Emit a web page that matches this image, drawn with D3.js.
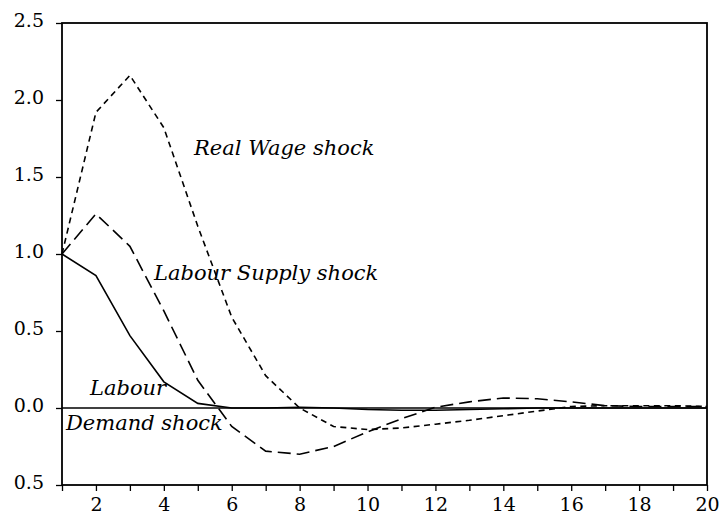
<!DOCTYPE html>
<html>
<head>
<meta charset="utf-8">
<script src="https://cdn.jsdelivr.net/npm/d3@7"></script>
<style>
  body { margin: 0; background: #fff; }
  svg { display: block; }
</style>
</head>
<body>
<svg class="chart"></svg>
<script>
// periods 1..20
var periods = d3.range(1, 21);

var realWage = [1.0, 1.92, 2.16, 1.82, 1.18, 0.59, 0.21, 0.0, -0.12, -0.14,
                -0.13, -0.105, -0.08, -0.05, -0.02, 0.01, 0.015, 0.015, 0.015, 0.01];
var labourSupply = [1.0, 1.26, 1.05, 0.63, 0.18, -0.12, -0.28, -0.30, -0.25, -0.155,
                    -0.07, 0.005, 0.04, 0.065, 0.06, 0.04, 0.015, 0.01, 0.01, 0.01];
var labourDemand = [1.0, 0.86, 0.47, 0.17, 0.03, 0.0, 0.0, 0.005, 0.0, -0.01,
                    -0.015, -0.015, -0.01, -0.005, 0.0, 0.0, 0.0, 0.0, 0.0, 0.0];

var yTicks = [-0.5, 0, 0.5, 1.0, 1.5, 2.0, 2.5];
var yTickLabels = ['0.5', '0.0', '0.5', '1.0', '1.5', '2.0', '2.5'];
var xTickLabels = ['2', '4', '6', '8', '10', '12', '14', '16', '18', '20'];

var width = 719;
var height = 530;
var margin = { top: 23, right: 12, bottom: 45, left: 62 };

var chart = d3.select('.chart')
    .attr('width', width)
    .attr('height', height);

var x = d3.scaleLinear().domain([1, 20]).range([margin.left, width - margin.right]);
var y = d3.scaleLinear().domain([-0.5, 2.5]).range([height - margin.bottom, margin.top]);

var tickFont = 'DejaVu Serif, serif';

// y axis
var yAxis = d3.axisLeft(y)
    .tickValues(yTicks)
    .tickSize(6)
    .tickPadding(12)
    .tickFormat(function(d, i) { return yTickLabels[i]; });
chart.append('g')
    .attr('transform', 'translate(' + margin.left + ',0)')
    .call(yAxis)
    .call(function(g) {
      g.select('.domain').remove();
      g.selectAll('line').attr('stroke', '#000').attr('stroke-width', 1.3);
      g.selectAll('text').attr('font-family', tickFont).attr('font-size', 19).attr('fill', '#000').attr('dy', '0.2em');
    });

// x axis, tick every period, label every second
var xAxis = d3.axisBottom(x)
    .tickValues(periods)
    .tickSize(6)
    .tickPadding(7)
    .tickFormat(function(d) { return d % 2 == 0 ? xTickLabels[d / 2 - 1] : ''; });
chart.append('g')
    .attr('transform', 'translate(0,' + (height - margin.bottom) + ')')
    .call(xAxis)
    .call(function(g) {
      g.select('.domain').remove();
      g.selectAll('line').attr('stroke', '#000').attr('stroke-width', 1.3);
      g.selectAll('text').attr('font-family', tickFont).attr('font-size', 19).attr('fill', '#000');
    });

// zero line
chart.append('line')
    .attr('x1', x(1)).attr('x2', x(20))
    .attr('y1', y(0)).attr('y2', y(0))
    .attr('stroke', '#000')
    .attr('stroke-width', 1.3);

// the three impulse responses
var series = [
  { values: realWage, dash: '6,4.5' },
  { values: labourSupply, dash: '13,6' },
  { values: labourDemand, dash: null }
];

var line = d3.line()
    .x(function(d) { return x(d.t); })
    .y(function(d) { return y(d.v); });

series.forEach(function(s) {
  var pts = periods.map(function(t, i) { return { t: t, v: s.values[i] }; });
  chart.append('path')
      .datum(pts)
      .attr('fill', 'none')
      .attr('stroke', '#000')
      .attr('stroke-width', 1.6)
      .attr('stroke-dasharray', s.dash)
      .attr('d', line);
});

// frame
chart.append('rect')
    .attr('x', x(1))
    .attr('y', y(2.5))
    .attr('width', x(20) - x(1))
    .attr('height', y(-0.5) - y(2.5))
    .attr('fill', 'none')
    .attr('stroke', '#000')
    .attr('stroke-width', 1.8);

// labels on the curves
var notes = [
  { text: 'Real Wage shock', px: 194, py: 155 },
  { text: 'Labour Supply shock', px: 154, py: 280 },
  { text: 'Labour', px: 90, py: 395 },
  { text: 'Demand shock', px: 66, py: 430 }
];
chart.selectAll('text.note')
    .data(notes)
    .enter().append('text')
    .attr('class', 'note')
    .attr('x', function(d) { return d.px; })
    .attr('y', function(d) { return d.py; })
    .attr('font-family', tickFont)
    .attr('font-style', 'italic')
    .attr('font-size', 21)
    .attr('fill', '#000')
    .text(function(d) { return d.text; });
</script>
</body>
</html>
